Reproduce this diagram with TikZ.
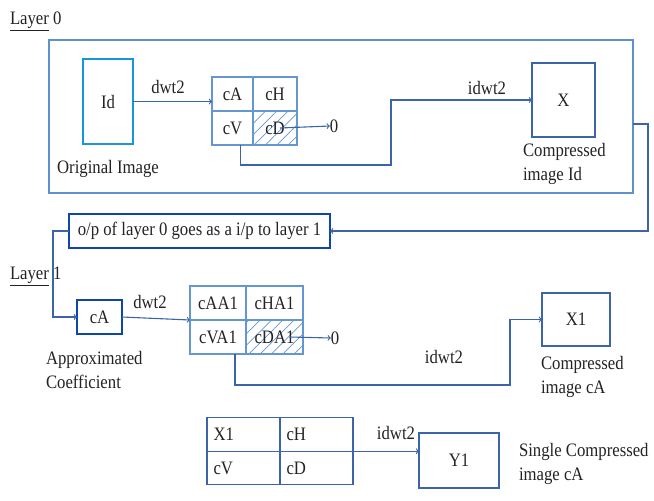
\documentclass[tikz,border=0pt]{standalone}
\usepackage{fontspec}
\setmainfont[FakeStretch=0.88]{Liberation Serif}
\usetikzlibrary{arrows,positioning,patterns.meta}
\definecolor{frameblue}{RGB}{95,145,205}
\definecolor{lineblue}{RGB}{60,100,170}
\definecolor{boxblue}{RGB}{25,150,215}
\definecolor{darkblue}{RGB}{15,70,170}
\definecolor{cellblue}{RGB}{100,150,210}
\definecolor{ink}{RGB}{35,35,35}
\tikzset{
  basic/.style  = {font=\fontsize{19}{21}\selectfont, text=ink, inner sep=0pt, outer sep=0pt},
  note/.style   = {basic, align=left, font=\fontsize{19}{23.5}\selectfont},
  frame/.style  = {basic, draw=frameblue, line width=1.3pt},
  img/.style    = {basic, draw=boxblue, line width=2.3pt},
  coef/.style   = {basic, draw=darkblue, line width=2.3pt},
  outbox/.style = {basic, draw=lineblue, line width=1.4pt},
  cell/.style   = {basic, draw=cellblue, line width=1.1pt, minimum height=34},
  zero/.style   = {cell, pattern={Lines[angle=45,distance=8pt,line width=0.7pt]},
                   pattern color=cellblue},
  plain/.style  = {basic, draw=lineblue, line width=1.1pt, minimum height=33.5,
                   minimum width=73, text width=60, align=left},
  link/.style   = {draw=lineblue, line width=1.1pt}
}
\begin{document}
\begin{tikzpicture}[x=1pt, y=-1pt, >=to]
\useasboundingbox (0,0) rectangle (654,501);

% layer 0
\node[basic, anchor=west] (t0) at (10,21) {\underline{Layer} 0};
\node[frame, minimum width=584, minimum height=153] (l0) at (341,116.5) {};
\node[img, minimum width=50, minimum height=85] (id) at (108,101.5) {Id};
\node[basic] (id-t) at (108,169) {Original Image};
\node[basic] (dw0) at (168,87) {dwt2};
\node[cell, minimum width=41] (g0a) at (232.5,94) {cA};
\node[cell, minimum width=44, right=0pt of g0a] (g0h) {cH};
\node[cell, minimum width=41, below=0pt of g0a] (g0v) {cV};
\node[zero, minimum width=44, right=0pt of g0v] (g0d) {cD};
\node[basic] (z0) at (334,126) {0};
\node[basic] (iw0) at (487,88) {idwt2};
\node[outbox, minimum width=63, minimum height=74] (x0) at (563.5,100) {X};
\node[note, anchor=west] (x0-t) at (523,164) {Compressed\\image Id};
\coordinate (bend0) at (391,165);
\coordinate (turn0) at (648,124);

% hand over
\node[coef, minimum width=261, minimum height=34] (op) at (199.5,231)
  {o/p of layer 0 goes as a i/p to layer 1};
\coordinate (turn1) at (53,231);

% layer 1
\node[basic, anchor=west] (t1) at (10,276) {\underline{Layer} 1};
\node[coef, minimum width=45, minimum height=34] (ca) at (99.5,317) {cA};
\node[note, anchor=west] (ca-t) at (46,370) {Approximated\\Coefficient};
\node[basic] (dw1) at (150,302) {dwt2};
\node[cell, minimum width=56] (g1a) at (218,303) {cAA1};
\node[cell, minimum width=57, right=0pt of g1a] (g1h) {cHA1};
\node[cell, minimum width=56, below=0pt of g1a] (g1v) {cVA1};
\node[zero, minimum width=57, right=0pt of g1v] (g1d) {cDA1};
\node[basic] (z1) at (335,338) {0};
\node[basic] (iw1) at (444,357) {idwt2};
\node[outbox, minimum width=68, minimum height=53] (x1) at (576,319.5) {X1};
\node[note, anchor=west] (x1-t) at (541,377) {Compressed\\image cA};
\coordinate (bend1) at (510,385);

% single compressed
\node[plain] (g2a) at (243.5,434.5) {X1};
\node[plain, right=0pt of g2a] (g2h) {cH};
\node[plain, below=0pt of g2a] (g2v) {cV};
\node[plain, right=0pt of g2v] (g2d) {cD};
\node[basic] (iw2) at (396,433) {idwt2};
\node[outbox, minimum width=80, minimum height=55] (y1) at (459,460.5) {Y1};
\node[note, anchor=west] (y1-t) at (519,464) {Single Compressed\\image cA};

% connectors
\draw[link, ->] (id.east) -- (id.east -| g0a.west);
\draw[link, ->] ([xshift=5]g0d.center) -- (z0.west);
\draw[link, ->] ([xshift=8]g0v.south) |- (bend0) |- (x0.west);
\draw[link, ->] (l0.east |- turn0) -- (turn0) |- (op.east);
\draw[link, ->] (op.west) -- (turn1) |- (ca.west);
\draw[link, ->] (ca.east) -- (g1a.south west);
\draw[link, ->] ([xshift=15]g1d.center) -- (z1.west);
\draw[link, ->] ([xshift=17]g1v.south) |- (bend1) |- (x1.west);
\draw[link, ->] (g2h.south east) -- (g2h.south east -| y1.west);
\end{tikzpicture}
\end{document}
